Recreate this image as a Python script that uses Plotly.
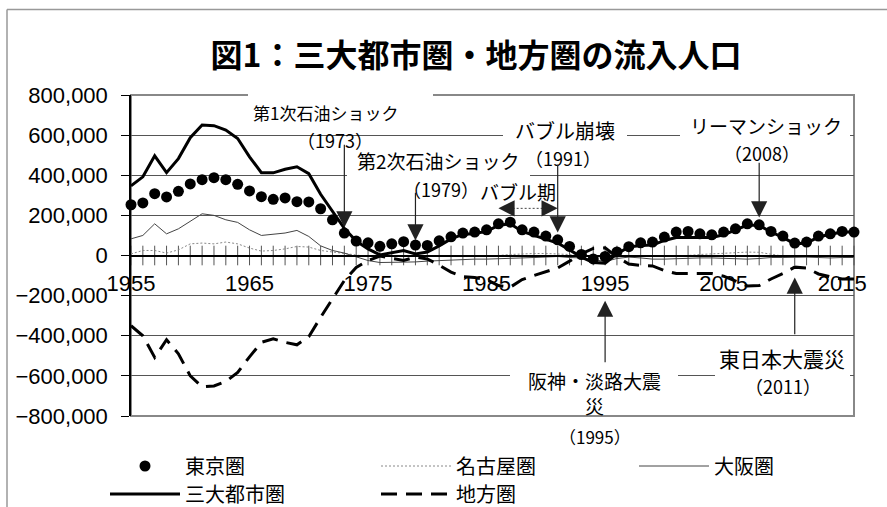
import plotly.graph_objects as go

# ---------------- data (persons) ----------------
years = list(range(1955, 2017))

tokyo = [253000, 262000, 308000, 292000, 320000, 357000, 378000, 388000, 378000, 355000,
         322000, 293000, 280000, 287000, 268000, 267000, 233000, 178000, 112000, 72000,
         63000, 46000, 58000, 69000, 52000, 50000, 73000, 93000, 112000, 117000,
         128000, 158000, 166000, 128000, 117000, 97000, 78000, 45000, 5000, -17000,
         -5000, 18000, 44000, 63000, 67000, 92000, 117000, 120000, 108000, 103000,
         117000, 133000, 158000, 153000, 120000, 97000, 62000, 67000, 97000, 108000,
         120000, 117000]

nagoya = [8000, 25000, 25000, 12000, 28000, 58000, 62000, 58000, 67000, 58000,
          37000, 22000, 25000, 33000, 45000, 42000, 25000, 17000, 8000, 0,
          -5000, -5000, -3000, -3000, -2000, 0, 0, -2000, -3000, -2000,
          -2000, 0, 5000, 8000, 10000, 10000, 8000, 5000, 0, -3000,
          -5000, -3000, 0, -2000, -5000, -3000, -2000, 0, 5000, 8000,
          12000, 15000, 17000, 16000, 5000, -3000, -3000, -2000, -2000, -5000,
          -2000, -3000]

osaka = [83000, 100000, 158000, 108000, 133000, 170000, 208000, 200000, 178000, 165000,
         128000, 100000, 105000, 112000, 125000, 95000, 48000, 25000, 12000, -8000,
         -25000, -35000, -35000, -35000, -32000, -28000, -25000, -22000, -20000, -18000,
         -18000, -15000, -12000, -12000, -10000, -8000, -5000, -10000, -12000, -20000,
         -30000, -15000, -8000, -12000, -18000, -18000, -15000, -12000, -12000, -12000,
         -15000, -18000, -18000, -15000, -10000, -10000, -8000, -8000, -10000, -12000,
         -10000, -10000]

three_metro = [347000, 392000, 497000, 413000, 483000, 587000, 650000, 647000, 625000, 583000,
               492000, 413000, 412000, 430000, 442000, 408000, 305000, 218000, 135000, 72000,
               33000, 3000, 15000, 25000, 8000, 17000, 48000, 83000, 105000, 110000,
               120000, 150000, 158000, 120000, 100000, 80000, 62000, 28000, -8000, -35000,
               -38000, 8000, 42000, 50000, 52000, 75000, 90000, 90000, 90000, 90000,
               103000, 128000, 152000, 150000, 117000, 90000, 58000, 62000, 92000, 106000,
               117000, 117000]

regional = [-350000, -400000, -508000, -420000, -490000, -600000, -655000, -650000, -628000, -583000,
            -505000, -433000, -415000, -433000, -445000, -405000, -308000, -217000, -125000, -60000,
            -25000, -3000, -15000, -25000, -8000, -17000, -48000, -83000, -105000, -110000,
            -120000, -150000, -158000, -120000, -100000, -80000, -62000, -28000, 8000, 35000,
            38000, -8000, -42000, -50000, -52000, -75000, -90000, -90000, -90000, -90000,
            -103000, -128000, -152000, -150000, -117000, -90000, -58000, -62000, -92000, -106000,
            -117000, -117000]

series_names = ["東京圏", "名古屋圏", "大阪圏", "三大都市圏", "地方圏"]
x_tick_years = [1955, 1965, 1975, 1985, 1995, 2005, 2015]
y_tick_vals = [-800000, -600000, -400000, -200000, 0, 200000, 400000, 600000, 800000]
title_text = "図1：三大都市圏・地方圏の流入人口"

# events (arrows): year, arrow tip value, arrow tail value
down_events = [1973, 1979, 1991, 2008]
down_tips = [140000, 75000, 115000, 190000]
down_tails = [560000, 320000, 460000, 470000]
up_events = [1995, 2011]
up_tips = [-225000, -110000]
up_tails = [-540000, -400000]
bubble_period = [1986, 1991]
bubble_level = 235000

# ---------------- layout geometry ----------------
W, H = 887, 507
PL, PR, PT, PB = 131, 854, 95, 416


def xp(px):
    return (px - PL) / (PR - PL)


def yp(py):
    return (PB - py) / (PB - PT)


JP = "Noto Sans CJK JP"
NUM = "Liberation Sans, Arial, Noto Sans CJK JP"

fig = go.Figure()

# cross tick marks at every year on the zero axis
fig.add_trace(go.Scatter(
    x=years, y=[0] * len(years), mode="markers",
    marker=dict(symbol="line-ns-open", size=14, color="#555", line=dict(width=1, color="#555")),
    showlegend=False, hoverinfo="skip", cliponaxis=False))

fig.add_trace(go.Scatter(
    x=years, y=nagoya, name=series_names[1], mode="lines",
    line=dict(color="#888", width=1, dash="2px,2px"), legend="legend2", cliponaxis=False))
fig.add_trace(go.Scatter(
    x=years, y=osaka, name=series_names[2], mode="lines",
    line=dict(color="#444", width=1), legend="legend3", cliponaxis=False))
fig.add_trace(go.Scatter(
    x=years, y=three_metro, name=series_names[3], mode="lines",
    line=dict(color="black", width=3), legend="legend4", cliponaxis=False))
fig.add_trace(go.Scatter(
    x=years, y=regional, name=series_names[4], mode="lines",
    line=dict(color="black", width=3, dash="16px,9px"), legend="legend5", cliponaxis=False))
fig.add_trace(go.Scatter(
    x=years, y=tokyo, name=series_names[0], mode="markers",
    marker=dict(color="black", size=11), legend="legend", cliponaxis=False))


def leg(px, py):
    return dict(x=px / W, y=1 - py / H, xref="container", yref="container",
                xanchor="left", yanchor="middle", orientation="h",
                bgcolor="rgba(0,0,0,0)", borderwidth=0,
                font=dict(family=JP, size=20, color="black"),
                itemwidth=70)


shapes = []
# plot-area border (gray)
shapes.append(dict(type="rect", xref="paper", yref="paper", x0=0, x1=1, y0=0, y1=1,
                   line=dict(color="#888", width=2), layer="between"))
# outer chart frame (top & left visible)
shapes.append(dict(type="line", xref="paper", yref="paper", x0=xp(7), x1=xp(W + 5),
                   y0=yp(9.5), y1=yp(9.5), line=dict(color="#999", width=1.5)))
shapes.append(dict(type="line", xref="paper", yref="paper", x0=xp(7), x1=xp(7),
                   y0=yp(9.5), y1=yp(H + 5), line=dict(color="#999", width=1.5)))
# white text-box backgrounds
for (x0, x1, y0, y1) in [(248, 433, 88, 127), (347, 530, 148, 181), (503, 627, 120, 145),
                         (680, 850, 112, 145), (510, 678, 368, 398), (715, 850, 342, 403)]:
    shapes.append(dict(type="rect", xref="paper", yref="paper", x0=xp(x0), x1=xp(x1),
                       y0=yp(y1), y1=yp(y0), fillcolor="white", line=dict(width=0),
                       layer="above"))
# bubble period dotted connector
shapes.append(dict(type="line", xref="x", yref="y", x0=bubble_period[0] + 1.2,
                   x1=bubble_period[1] - 1.2, y0=bubble_level, y1=bubble_level,
                   line=dict(color="#444", width=1, dash="2px,2px")))

annotations = []
texts = [
    ("第1次石油ショック", 325, 112, 17), ("（1973）", 335, 140, 18),
    ("第2次石油ショック", 438, 160, 19), ("（1979）", 441, 189, 18), ("バブル期", 518, 191, 19),
    ("バブル崩壊", 565, 130, 20), ("（1991）", 563, 158, 18),
    ("リーマンショック", 766, 125, 19), ("（2008）", 762, 153, 18),
    ("阪神・淡路大震<br>災", 594, 393, 19), ("（1995）", 595, 437, 17),
    ("東日本大震災", 782, 358, 21), ("（2011）", 783, 386, 18),
]
for t, cx, cy, fs in texts:
    annotations.append(dict(text=t, xref="paper", yref="paper", x=xp(cx), y=yp(cy),
                            xanchor="center", yanchor="middle", showarrow=False,
                            font=dict(family=JP, size=fs, color="black")))

ARROW = dict(showarrow=True, arrowhead=2, arrowsize=2.7, arrowwidth=1.2,
             arrowcolor="#222", standoff=0, startstandoff=0, text="")
for yr, tip, tail in zip(down_events + up_events, down_tips + up_tips, down_tails + up_tails):
    annotations.append(dict(xref="x", yref="y", axref="x", ayref="y",
                            x=yr, y=tip, ax=yr, ay=tail, **ARROW))
# bubble period double arrow heads
annotations.append(dict(xref="x", yref="y", axref="x", ayref="y", x=bubble_period[0],
                        y=bubble_level, ax=bubble_period[0] + 1.3, ay=bubble_level, **ARROW))
annotations.append(dict(xref="x", yref="y", axref="x", ayref="y", x=bubble_period[1],
                        y=bubble_level, ax=bubble_period[1] - 1.3, ay=bubble_level, **ARROW))

fig.update_layout(
    width=W, height=H,
    margin=dict(l=PL, r=W - PR, t=PT, b=H - PB, autoexpand=False),
    paper_bgcolor="white", plot_bgcolor="white",
    title=dict(text=title_text, x=476 / W, xanchor="center", y=1 - 56 / H,
               yanchor="middle", yref="container",
               font=dict(family=JP, size=32, color="black", weight="bold")),
    showlegend=True,
    legend=leg(105, 466), legend2=leg(376, 466), legend3=leg(634, 466),
    legend4=leg(105, 494), legend5=leg(376, 494),
    shapes=shapes, annotations=annotations,
    font=dict(family=JP, color="black"),
)
fig.update_xaxes(range=[1955, 2016], anchor="free", position=0.5,
                 showline=True, linecolor="black", linewidth=1.5,
                 ticks="", tickvals=x_tick_years, ticktext=[str(v) for v in x_tick_years],
                 tickfont=dict(family=NUM, size=22, color="black"),
                 ticklabelstandoff=8, showgrid=False, zeroline=False)
fig.update_yaxes(range=[-800000, 800000], tickvals=y_tick_vals, tickformat=",",
                 showline=True, linecolor="black", linewidth=1.5,
                 ticks="outside", ticklen=8, tickcolor="black",
                 tickfont=dict(family=NUM, size=22, color="black"),
                 ticklabelstandoff=9,
                 showgrid=True, gridcolor="#555", gridwidth=1, zeroline=False)

fig.write_html(
    "out.html",
    config={"displayModeBar": False},
    post_script="document.body.style.margin='0';document.body.style.padding='0';"
                "document.body.style.overflow='hidden';",
)
